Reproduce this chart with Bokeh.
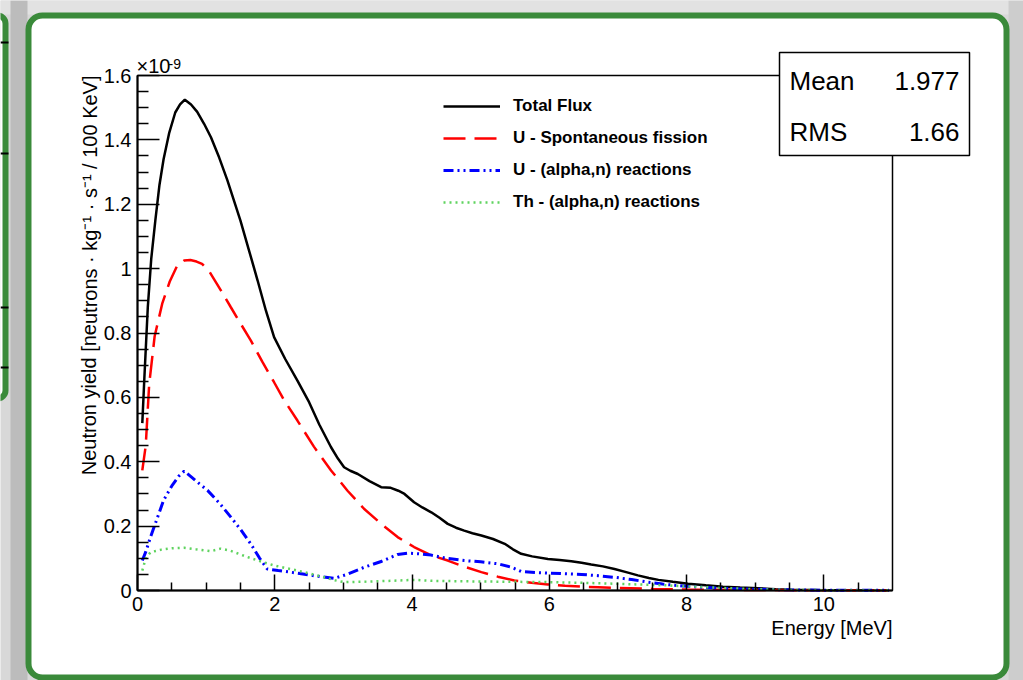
from bokeh.plotting import figure
from bokeh.models import (Range1d, FixedTicker, Legend, LegendItem, BoxAnnotation,
                          Label, PrintfTickFormatter)
from bokeh.embed import file_html
from bokeh.resources import INLINE

# ---------------- data (values in units of 1e-9) ----------------
energy_total = [0.07, 0.10, 0.15, 0.20, 0.26, 0.32, 0.38, 0.46, 0.55, 0.62, 0.69, 0.78,
                0.87, 0.97, 1.07, 1.19, 1.31, 1.50, 1.62, 1.75, 1.87, 1.99, 2.15, 2.33,
                2.50, 2.65, 2.82, 2.92, 3.01, 3.10, 3.21, 3.38, 3.55, 3.69, 3.80, 3.89,
                4.03, 4.15, 4.28, 4.40, 4.52, 4.64, 4.76, 4.88, 5.01, 5.18, 5.35, 5.47,
                5.59, 5.75, 5.98, 6.15, 6.32, 6.47, 6.61, 6.78, 6.95, 7.12, 7.29, 7.45,
                7.59, 7.80, 8.02, 8.28, 8.53, 8.78, 9.04, 9.30, 9.53, 10.0, 10.5, 10.95]
flux_total = [0.52, 0.66, 0.88, 1.03, 1.15, 1.26, 1.34, 1.42, 1.485, 1.51, 1.525, 1.51,
              1.487, 1.45, 1.408, 1.345, 1.274, 1.149, 1.06, 0.963, 0.87, 0.787, 0.72, 0.652,
              0.585, 0.515, 0.445, 0.41, 0.383, 0.372, 0.362, 0.34, 0.321, 0.319, 0.31, 0.30,
              0.274, 0.258, 0.243, 0.226, 0.207, 0.195, 0.186, 0.178, 0.171, 0.16, 0.145, 0.128,
              0.114, 0.106, 0.098, 0.095, 0.091, 0.086, 0.081, 0.075, 0.067, 0.057, 0.047, 0.039,
              0.033, 0.027, 0.021, 0.016, 0.012, 0.009, 0.007, 0.004, 0.002, 0.001, 0.0005, 0.0003]

energy_u_sf = [0.07, 0.12, 0.17, 0.25, 0.36, 0.47, 0.58, 0.68, 0.77, 0.86, 0.94, 1.05,
               1.15, 1.25, 1.36, 1.50, 1.65, 1.82, 1.99, 2.14, 2.33, 2.57, 2.82, 3.06,
               3.30, 3.55, 3.79, 4.03, 4.28, 4.52, 4.76, 5.01, 5.25, 5.49, 5.74, 5.98,
               6.23, 6.47, 6.71, 6.95, 7.5, 8.0, 9.0, 10.0, 10.95]
flux_u_sf = [0.373, 0.45, 0.64, 0.79, 0.891, 0.96, 1.01, 1.025, 1.027, 1.022, 1.015, 0.99,
             0.955, 0.92, 0.88, 0.83, 0.777, 0.71, 0.647, 0.59, 0.528, 0.447, 0.373, 0.31,
             0.254, 0.207, 0.166, 0.135, 0.109, 0.093, 0.074, 0.057, 0.043, 0.031, 0.024, 0.019,
             0.015, 0.012, 0.010, 0.008, 0.005, 0.003, 0.0015, 0.0008, 0.0004]

energy_u_an = [0.07, 0.12, 0.19, 0.28, 0.38, 0.50, 0.60, 0.68, 0.80, 0.90, 1.02, 1.20,
               1.36, 1.50, 1.65, 1.78, 1.89, 2.05, 2.33, 2.60, 2.87, 3.05, 3.30, 3.55,
               3.79, 3.94, 4.10, 4.28, 4.50, 4.76, 5.00, 5.25, 5.45, 5.59, 5.80, 5.98,
               6.23, 6.47, 6.71, 6.95, 7.20, 7.44, 7.65, 7.83, 8.2, 8.6, 9.0, 9.5, 10.0, 10.95]
flux_u_an = [0.093, 0.12, 0.166, 0.22, 0.28, 0.325, 0.355, 0.371, 0.35, 0.332, 0.311, 0.27,
             0.228, 0.19, 0.145, 0.10, 0.067, 0.062, 0.054, 0.045, 0.038, 0.05, 0.072, 0.09,
             0.112, 0.116, 0.114, 0.110, 0.100, 0.093, 0.089, 0.083, 0.072, 0.059, 0.056, 0.054,
             0.052, 0.05, 0.046, 0.041, 0.034, 0.026, 0.02, 0.016, 0.01, 0.006, 0.004, 0.002, 0.001, 0.0005]

energy_th_an = [0.07, 0.12, 0.19, 0.35, 0.50, 0.68, 0.85, 1.07, 1.21, 1.35, 1.60, 1.80,
                1.99, 2.15, 2.33, 2.52, 2.72, 2.87, 3.01, 3.25, 3.55, 3.80, 4.03, 4.28,
                4.60, 5.01, 5.50, 5.98, 6.47, 6.95, 7.40, 7.70, 8.1, 8.5, 9.0, 9.5, 10.0, 10.95]
flux_th_an = [0.062, 0.10, 0.119, 0.127, 0.131, 0.133, 0.128, 0.122, 0.13, 0.124, 0.104, 0.09,
              0.078, 0.07, 0.062, 0.052, 0.041, 0.032, 0.026, 0.027, 0.029, 0.031, 0.033, 0.03,
              0.029, 0.028, 0.027, 0.026, 0.024, 0.021, 0.018, 0.016, 0.012, 0.008, 0.004, 0.002, 0.001, 0.0005]

series_labels = ["Total Flux", "U - Spontaneous fission", "U - (alpha,n) reactions",
                 "Th - (alpha,n) reactions"]

x_limits = (0, 11)
y_limits = (0, 1.6)
x_major = [0, 2, 4, 6, 8, 10]
x_minor = [0.5 * i for i in range(1, 22) if (0.5 * i) not in x_major]
y_major = [0.0, 0.2, 0.4, 0.6, 0.8, 1.0, 1.2, 1.4, 1.6]
y_major_labels = ["0", "0.2", "0.4", "0.6", "0.8", "1", "1.2", "1.4", "1.6"]
y_minor = [round(0.05 * i, 2) for i in range(1, 32) if i % 4 != 0]

stats_names = ["Mean", "RMS"]
stats_values = ["1.977", "1.66"]

x_title = "Energy [MeV]"
y_title = "Neutron yield [neutrons \u00b7 kg\u207b\u00b9 \u00b7 s\u207b\u00b9 / 100 KeV]"
y_exponent_base = "\u00d710"
y_exponent_power = "-9"

FONT = "Liberation Sans"
GREEN = "#3a8a3a"

# ---------------- layout (pixels) ----------------
W, H = 1023, 680
AX_L, AX_R, AX_T, AX_B = 137, 892, 75, 590   # chart area inside the canvas

sx = (AX_R - AX_L) / (x_limits[1] - x_limits[0])
sy = (AX_B - AX_T) / (y_limits[1] - y_limits[0])
x_range = Range1d(x_limits[0] - AX_L / sx, x_limits[1] + (W - AX_R) / sx)
y_range = Range1d(y_limits[0] - (H - AX_B) / sy, y_limits[1] + AX_T / sy)

p = figure(width=W, height=H, x_range=x_range, y_range=y_range,
           output_backend="svg", toolbar_location=None,
           min_border=0, min_border_left=0, min_border_right=0,
           min_border_top=0, min_border_bottom=0)
p.title.visible = False
p.border_fill_color = "#d8d8d8"
p.background_fill_color = "#d8d8d8"
p.outline_line_alpha = 0
p.xgrid.visible = False
p.ygrid.visible = False


def canvas_box(**kw):
    return BoxAnnotation(left_units="canvas", right_units="canvas",
                         top_units="canvas", bottom_units="canvas", **kw)


# page decorations
p.add_layout(canvas_box(left=0, right=W, top=0, bottom=14, fill_color="#e2e2e2",
                        fill_alpha=1, line_alpha=0, level="underlay"))
p.add_layout(canvas_box(left=10, right=27, top=0, bottom=H, fill_color="#bcbcbc",
                        fill_alpha=1, line_alpha=0, level="underlay"))
p.add_layout(canvas_box(left=1008, right=W, top=0, bottom=H, fill_color="#cdcdcd",
                        fill_alpha=1, line_alpha=0, level="underlay"))
p.add_layout(canvas_box(left=-20, right=5, top=15, bottom=398, fill_color="white",
                        fill_alpha=1, line_color=GREEN, line_alpha=1, line_width=6,
                        border_radius=8, level="underlay"))
for ty in (42, 153, 307, 367):
    p.add_layout(canvas_box(left=0, right=8, top=ty - 1, bottom=ty + 1, fill_color="black",
                            fill_alpha=1, line_alpha=0, level="underlay"))
p.add_layout(canvas_box(left=28, right=1006, top=15, bottom=677, fill_color="white",
                        fill_alpha=1, line_color=GREEN, line_alpha=1, line_width=6,
                        border_radius=14, level="underlay"))

# chart frame outline (top & right edges of the ROOT pad)
p.add_layout(BoxAnnotation(left=x_limits[0], right=x_limits[1], bottom=y_limits[0],
                           top=y_limits[1], fill_alpha=0, line_color="black",
                           line_alpha=1, line_width=1.5, level="underlay"))

# axes placed at the chart origin
p.xaxis.fixed_location = y_limits[0]
p.yaxis.fixed_location = x_limits[0]
p.xaxis.bounds = x_limits
p.yaxis.bounds = y_limits
p.xaxis.ticker = FixedTicker(ticks=x_major, minor_ticks=x_minor)
p.yaxis.ticker = FixedTicker(ticks=y_major, minor_ticks=y_minor)
p.yaxis.formatter = PrintfTickFormatter(format="%g")
p.yaxis.major_label_overrides = {v: s for v, s in zip(y_major, y_major_labels)}
for ax in (p.xaxis, p.yaxis):
    ax.axis_line_color = "black"
    ax.axis_line_width = 2
    ax.major_tick_out = 0
    ax.minor_tick_out = 0
    ax.major_tick_line_color = "black"
    ax.minor_tick_line_color = "black"
    ax.major_tick_line_width = 1.5
    ax.minor_tick_line_width = 1.5
    ax.major_label_text_font = FONT
    ax.major_label_text_font_size = "20px"
    ax.major_label_text_color = "black"
p.xaxis.major_tick_in = 16
p.xaxis.minor_tick_in = 8
p.xaxis.major_label_standoff = 6
p.yaxis.major_tick_in = 22
p.yaxis.minor_tick_in = 11
p.yaxis.major_label_standoff = 6

# curves
r_total = p.line(energy_total, flux_total, line_color="black", line_width=2.5)
r_sf = p.line(energy_u_sf, flux_u_sf, line_color="#ff0000", line_width=2.5, line_dash="22 9")
r_uan = p.line(energy_u_an, flux_u_an, line_color="#0000ff", line_width=3,
               line_dash="10 4 2 4 2 4")
r_than = p.line(energy_th_an, flux_th_an, line_color="#5fd35f", line_width=2.5, line_dash="2 4")

legend = Legend(items=[LegendItem(label=series_labels[0], renderers=[r_total]),
                       LegendItem(label=series_labels[1], renderers=[r_sf]),
                       LegendItem(label=series_labels[2], renderers=[r_uan]),
                       LegendItem(label=series_labels[3], renderers=[r_than])],
                location=(443, H - 212), orientation="vertical",
                glyph_width=57, glyph_height=20, label_height=20, spacing=12,
                padding=0, margin=0, label_standoff=13,
                label_text_font=FONT, label_text_font_style="bold",
                label_text_font_size="17px", label_text_color="black",
                border_line_alpha=0, background_fill_alpha=0)
p.add_layout(legend)

# axis titles and exponent
p.add_layout(Label(x=892, y=627, x_units="canvas", y_units="canvas", text=x_title,
                   text_align="right", text_baseline="middle", text_font=FONT,
                   text_font_size="20px", text_color="black"))
p.add_layout(Label(x=89, y=75, x_units="canvas", y_units="canvas", text=y_title,
                   angle=1.5707963, text_align="right", text_baseline="middle",
                   text_font=FONT, text_font_size="20px", text_color="black"))
p.add_layout(Label(x=136, y=76, x_units="canvas", y_units="canvas", text=y_exponent_base,
                   text_align="left", text_baseline="bottom", text_font=FONT,
                   text_font_size="20px", text_color="black"))
p.add_layout(Label(x=168, y=68, x_units="canvas", y_units="canvas", text=y_exponent_power,
                   text_align="left", text_baseline="bottom", text_font=FONT,
                   text_font_size="14px", text_color="black"))

# stats box
p.add_layout(canvas_box(left=779, right=969, top=52, bottom=155,
                        fill_color="white", fill_alpha=1, line_color="black",
                        line_alpha=1, line_width=1.5))
for i, (nm, val) in enumerate(zip(stats_names, stats_values)):
    yc = 80 + 51 * i
    p.add_layout(Label(x=789, y=yc, x_units="canvas", y_units="canvas", text=nm,
                       text_align="left", text_baseline="middle", text_font=FONT,
                       text_font_size="26px", text_color="black"))
    p.add_layout(Label(x=959, y=yc, x_units="canvas", y_units="canvas", text=val,
                       text_align="right", text_baseline="middle", text_font=FONT,
                       text_font_size="26px", text_color="black"))

open("out.html", "w").write(file_html(p, INLINE))
